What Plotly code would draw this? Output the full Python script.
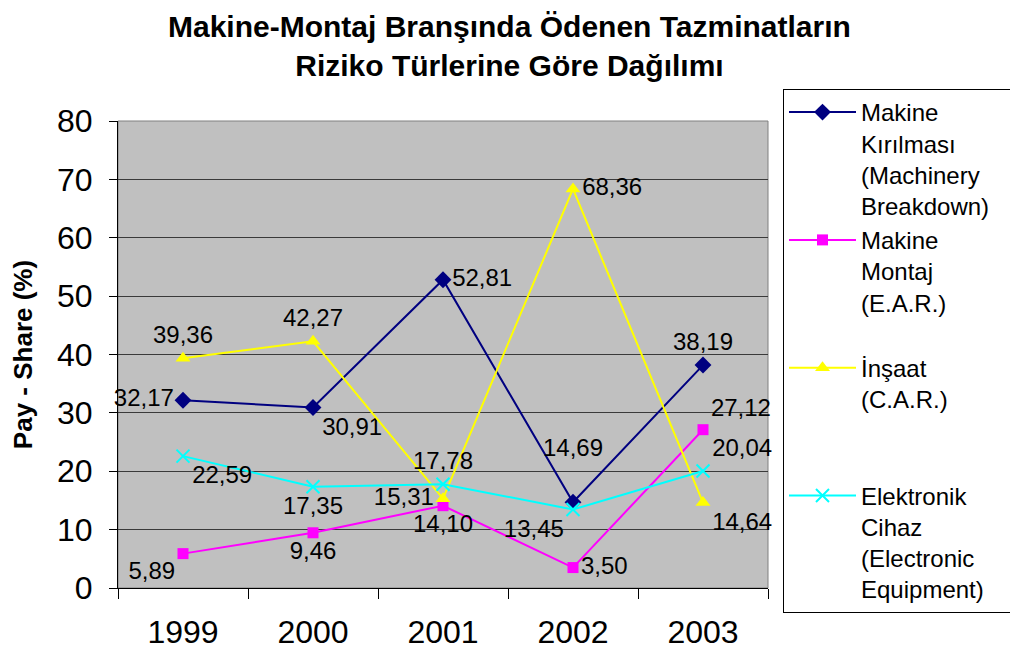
import plotly.graph_objects as go

years = ["1999", "2000", "2001", "2002", "2003"]

kirilmasi = [32.17, 30.91, 52.81, 14.69, 38.19]
montaj = [5.89, 9.46, 14.10, 3.50, 27.12]
insaat = [39.36, 42.27, 15.31, 68.36, 14.64]
elektronik = [22.59, 17.35, 17.78, 13.45, 20.04]

names = [
    "Makine<br>Kırılması<br>(Machinery<br>Breakdown)\u00a0\u00a0\u00a0\u00a0",
    "Makine<br>Montaj<br>(E.A.R.)<br>\u00a0",
    "İnşaat<br>(C.A.R.)<br>\u00a0<br>\u00a0",
    "Elektronik<br>Cihaz<br>(Electronic<br>Equipment)",
]

FONT = "Liberation Sans, Arial, sans-serif"

# the page body has an 8px margin, so the figure is drawn 8px smaller
W, H = 1010, 644
L, R, T, B = 110, 250, 113, 64
PW, PH = W - L - R, H - T - B


def px_x(x):
    return (x - L) / PW


def px_y(y):
    return (H - B - y) / PH


def lbl(vals):
    return [f"{v:.2f}".replace(".", ",") for v in vals]


k_text = lbl(kirilmasi)
k_text[3] = k_text[3] + "<br>\u00a0"

fig = go.Figure()

fig.add_trace(go.Scatter(
    x=years, y=kirilmasi, name=names[0], mode="lines+markers+text",
    line=dict(color="#000080", width=2),
    marker=dict(symbol="diamond", size=13, color="#000080"),
    text=k_text,
    textposition=["middle left", "bottom right", "middle right", "top center", "top center"],
))
fig.add_trace(go.Scatter(
    x=years, y=montaj, name=names[1], mode="lines+markers+text",
    line=dict(color="#FF00FF", width=2),
    marker=dict(symbol="square", size=11, color="#FF00FF"),
    text=lbl(montaj),
    textposition=["bottom left", "bottom center", "bottom center", "middle right", "top right"],
))
fig.add_trace(go.Scatter(
    x=years, y=insaat, name=names[2], mode="lines+markers+text",
    line=dict(color="#FFFF00", width=2),
    marker=dict(symbol="triangle-up", size=13, color="#FFFF00"),
    text=lbl(insaat),
    textposition=["top center", "top center", "middle left", "middle right", "bottom right"],
))
fig.add_trace(go.Scatter(
    x=years, y=elektronik, name=names[3], mode="lines+markers+text",
    line=dict(color="#00FFFF", width=2),
    marker=dict(symbol="x-thin", size=13, color="#00FFFF",
                line=dict(color="#00FFFF", width=2)),
    text=lbl(elektronik),
    textposition=["bottom right", "bottom center", "top center", "bottom left", "top right"],
))

fig.update_traces(textfont=dict(family=FONT, size=24, color="black"), cliponaxis=False)

fig.update_layout(
    width=W, height=H,
    margin=dict(l=L, r=R, t=T, b=B, autoexpand=False),
    paper_bgcolor="white",
    plot_bgcolor="#C0C0C0",
    font=dict(family=FONT, color="black"),
    annotations=[dict(
        text="<b>Makine-Montaj Branşında Ödenen Tazminatların<br>Riziko Türlerine Göre Dağılımı</b>",
        font=dict(family=FONT, size=30, color="black"),
        xref="paper", x=px_x(501), xanchor="center",
        yref="paper", y=px_y(0), yanchor="top",
        showarrow=False,
    )],
    xaxis=dict(
        type="category", range=[-0.5, 4.5], automargin=False,
        showgrid=False, showline=True, linecolor="black", linewidth=1,
        ticks="outside", tickson="boundaries", ticklen=10, tickcolor="black",
        tickfont=dict(family=FONT, size=32, color="black"),
        ticklabelstandoff=16,
        zeroline=False,
    ),
    yaxis=dict(
        range=[0, 80], dtick=10, automargin=False,
        showgrid=True, gridcolor="#3a3a3a", gridwidth=1,
        showline=True, linecolor="black", linewidth=1,
        ticks="outside", ticklen=8, tickcolor="black",
        tickfont=dict(family=FONT, size=32, color="black"),
        ticklabelstandoff=10,
        zeroline=False,
        title=dict(text="<b>Pay - Share (%)</b>", font=dict(family=FONT, size=26, color="black"),
                   standoff=18),
    ),
    legend=dict(
        x=px_x(775), xanchor="left", y=px_y(81), yanchor="top",
        bordercolor="black", borderwidth=1, bgcolor="white",
        font=dict(family=FONT, size=24, color="black"),
        valign="top", itemwidth=67, tracegroupgap=0, maxheight=640,
    ),
    shapes=[dict(type="rect", xref="paper", yref="paper", x0=0, x1=1, y0=0, y1=1,
                 line=dict(color="#808080", width=1), layer="below")],
)

fig.write_html("out.html")
